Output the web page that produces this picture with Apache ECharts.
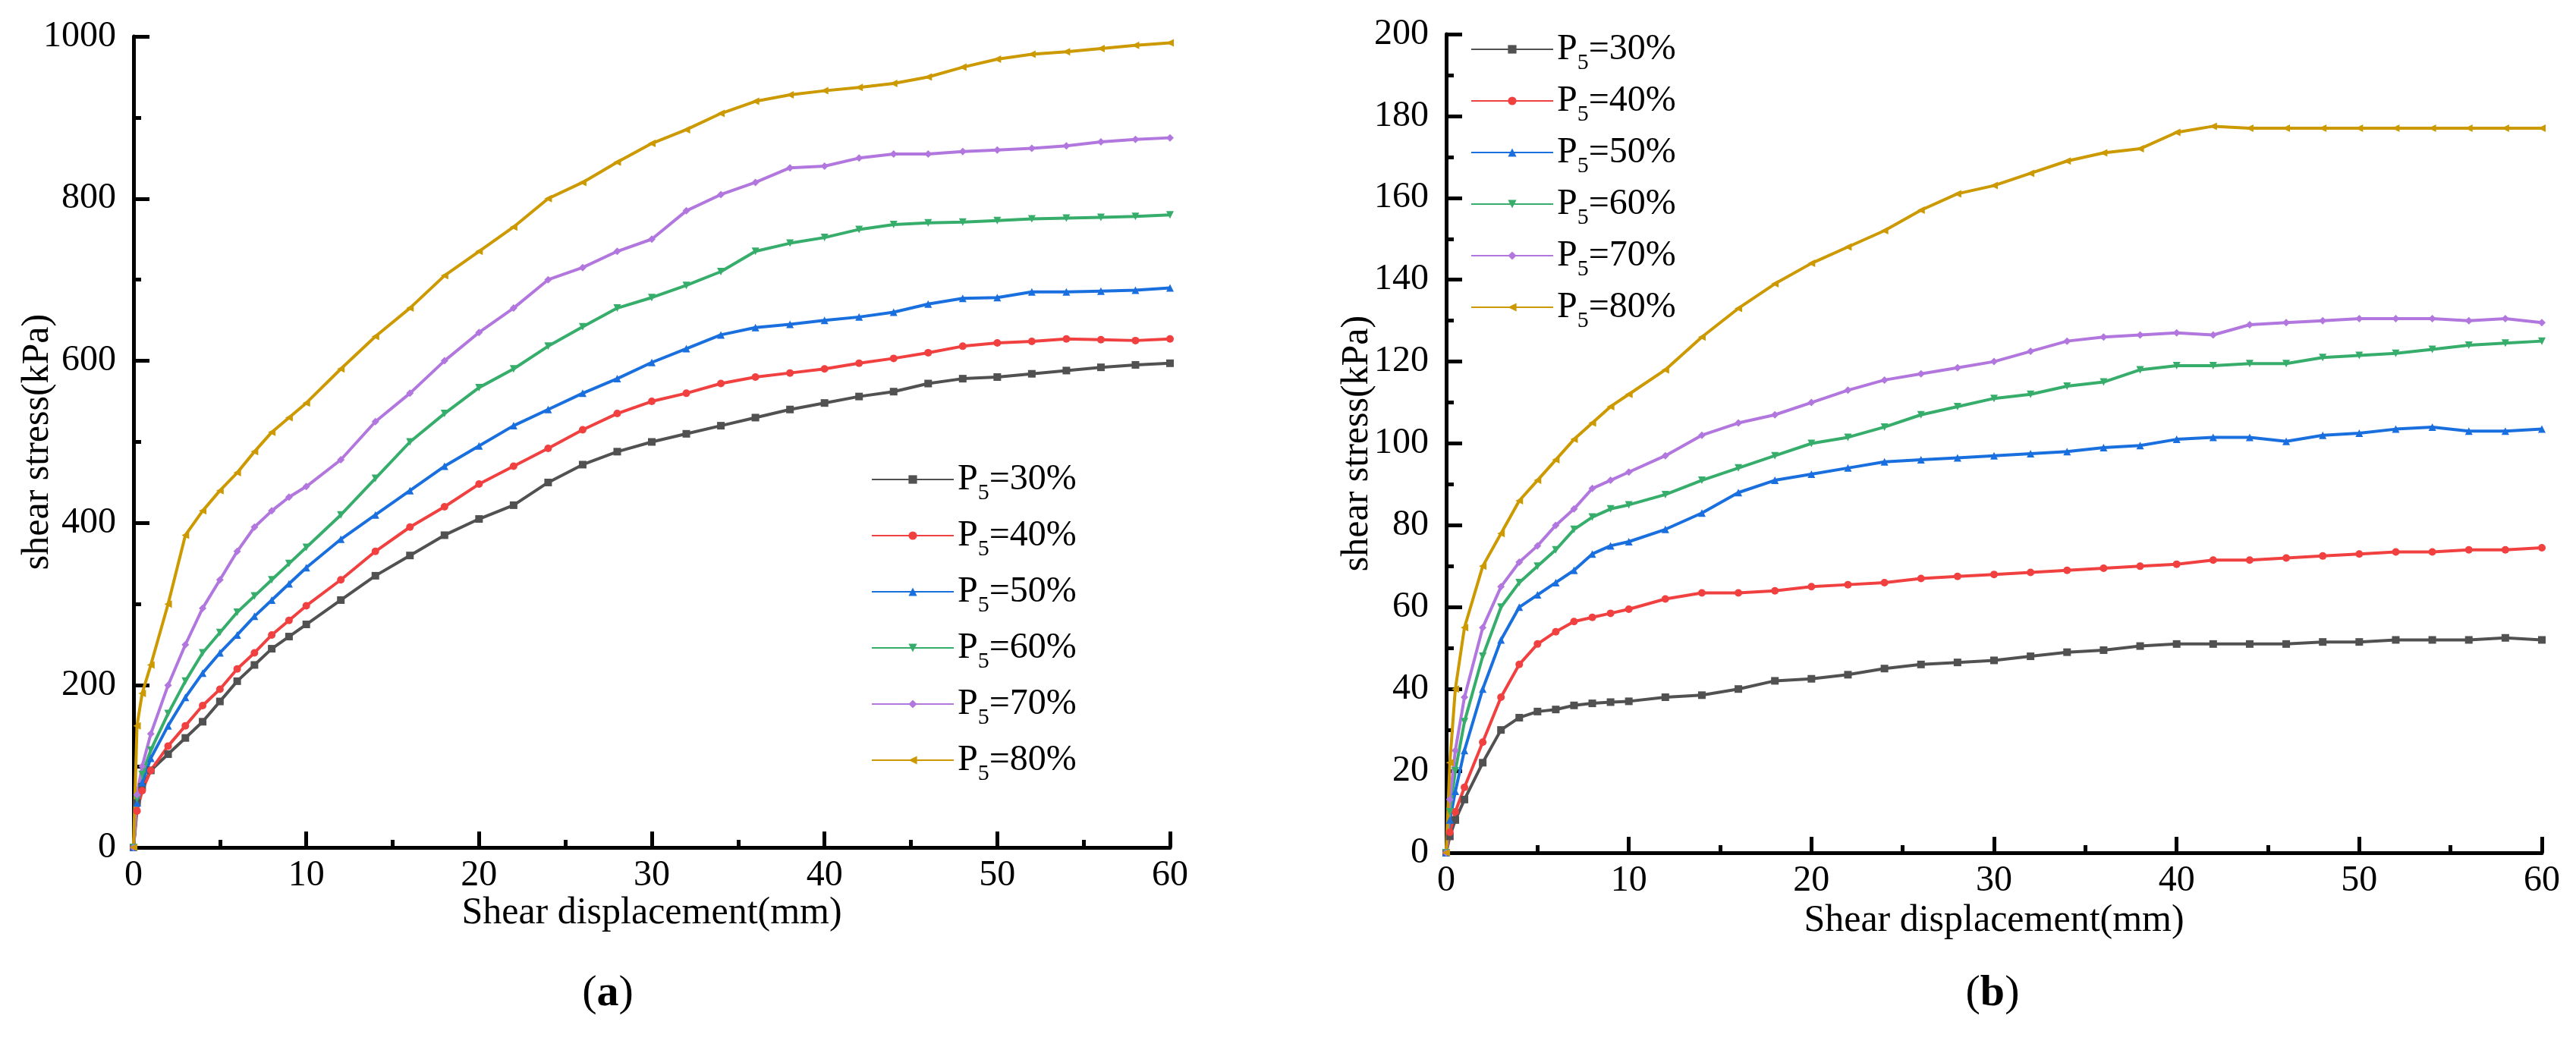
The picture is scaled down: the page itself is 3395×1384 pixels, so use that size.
<!DOCTYPE html>
<html>
<head>
<meta charset="utf-8">
<script src="https://cdn.jsdelivr.net/npm/echarts@6/dist/echarts.min.js"></script>
<style>
  html, body { margin: 0; padding: 0; background: #fff; }
  #chart { width: 3395px; height: 1384px; }
</style>
</head>
<body>
<div id="chart"></div>
<script>
// shear displacement (mm), shared by every curve
const disp = [0, 0.2, 0.5, 1, 2, 3, 4, 5, 6, 7, 8, 9, 10,
  12, 14, 16, 18, 20, 22, 24, 26, 28, 30, 32, 34, 36, 38, 40,
  42, 44, 46, 48, 50, 52, 54, 56, 58, 60];

const names = ['P5=30%', 'P5=40%', 'P5=50%', 'P5=60%', 'P5=70%', 'P5=80%'];

// (a) shear stress, kPa
const a30 = [0, 55, 75, 95, 115, 135, 155, 180, 205, 225, 245, 260, 275,
  305, 335, 360, 385, 405, 422, 450, 472, 488, 500, 510, 520, 530, 540, 548,
  556, 562, 572, 578, 580, 584, 588, 592, 595, 597];
const a40 = [0, 45, 70, 95, 125, 150, 175, 195, 220, 240, 262, 280, 298,
  330, 365, 395, 420, 448, 470, 492, 515, 535, 550, 560, 572, 580, 585, 590,
  597, 603, 610, 618, 622, 624, 627, 626, 625, 627];
const a50 = [0, 55, 80, 110, 150, 185, 215, 240, 262, 285, 305, 325, 345,
  380, 410, 440, 470, 495, 520, 540, 560, 578, 598, 615, 632, 641, 645, 650,
  654, 660, 670, 677, 678, 685, 685, 686, 687, 690];
const a60 = [0, 60, 90, 120, 165, 205, 240, 265, 290, 310, 330, 350, 370,
  410, 455, 500, 535, 567, 590, 618, 642, 665, 678, 693, 710, 735, 745, 752,
  762, 768, 770, 771, 773, 775, 776, 777, 778, 780];
const a70 = [0, 65, 100, 140, 200, 250, 295, 330, 365, 395, 415, 432, 445,
  478, 525, 560, 600, 635, 665, 700, 715, 735, 750, 785, 805, 820, 838, 840,
  850, 855, 855, 858, 860, 862, 865, 870, 873, 875];
const a80 = [0, 150, 190, 225, 300, 385, 415, 440, 462, 488, 512, 530, 548,
  590, 630, 665, 705, 735, 765, 800, 820, 845, 868, 885, 905, 920, 928, 933,
  937, 942, 950, 962, 972, 978, 981, 985, 989, 992];

// (b) shear stress, kPa
const b30 = [0, 4, 8, 13, 22, 30, 33, 34.5, 35, 36, 36.5, 36.8, 37,
  38, 38.5, 40, 42, 42.5, 43.5, 45, 46, 46.5, 47, 48, 49, 49.5, 50.5, 51,
  51, 51, 51, 51.5, 51.5, 52, 52, 52, 52.5, 52];
const b40 = [0, 5, 10, 16, 27, 38, 46, 51, 54, 56.5, 57.5, 58.5, 59.5,
  62, 63.5, 63.5, 64, 65, 65.5, 66, 67, 67.5, 68, 68.5, 69, 69.5, 70, 70.5,
  71.5, 71.5, 72, 72.5, 73, 73.5, 73.5, 74, 74, 74.5];
const b50 = [0, 8, 15, 25, 40, 52, 60, 63, 66, 69, 73, 75, 76,
  79, 83, 88, 91, 92.5, 94, 95.5, 96, 96.5, 97, 97.5, 98, 99, 99.5, 101,
  101.5, 101.5, 100.5, 102, 102.5, 103.5, 104, 103, 103, 103.5];
const b60 = [0, 10, 20, 32, 48, 60, 66, 70, 74, 79, 82, 84, 85,
  87.5, 91, 94, 97, 100, 101.5, 104, 107, 109, 111, 112, 114, 115, 118, 119,
  119, 119.5, 119.5, 121, 121.5, 122, 123, 124, 124.5, 125];
const b70 = [0, 13, 25, 38, 55, 65, 71, 75, 80, 84, 89, 91, 93,
  97, 102, 105, 107, 110, 113, 115.5, 117, 118.5, 120, 122.5, 125, 126, 126.5, 127,
  126.5, 129, 129.5, 130, 130.5, 130.5, 130.5, 130, 130.5, 129.5];
const b80 = [0, 22, 40, 55, 70, 78, 86, 91, 96, 101, 105, 109, 112,
  118, 126, 133, 139, 144, 148, 152, 157, 161, 163, 166, 169, 171, 172, 176,
  177.5, 177, 177, 177, 177, 177, 177, 177, 177, 177];

const colors = ['#515151', '#F14040', '#1A6FDF', '#37AD6B', '#B177DE', '#CC9900'];
const symbols = ['rect', 'circle', 'triangle', 'triangle', 'diamond', 'triangle'];
const rotates = [0, 0, 0, 180, 0, 90];

const FONT = 'Liberation Serif';

const chart = echarts.init(document.getElementById('chart'));

function makeSeries(values, i, idx) {
  return {
    name: names[i],
    type: 'line',
    xAxisIndex: idx,
    yAxisIndex: idx,
    data: disp.map((d, k) => [d, values[k]]),
    itemStyle: { color: colors[i] },
    lineStyle: { color: colors[i], width: 4 },
    symbol: symbols[i],
    symbolRotate: rotates[i],
    symbolSize: 10,
    showAllSymbol: true
  };
}

function xAxisOf(idx, gap) {
  return {
    gridIndex: idx,
    type: 'value',
    min: 0, max: 60, interval: 10,
    name: 'Shear displacement(mm)',
    nameLocation: 'middle',
    nameGap: gap,
    nameMoveOverlap: false,
    nameTextStyle: { fontFamily: FONT, fontSize: 50, color: '#000' },
    axisLine: { show: true, lineStyle: { color: '#000', width: 5 } },
    axisTick: { show: true, inside: true, length: 21, lineStyle: { color: '#000', width: 5 } },
    minorTick: { show: true, splitNumber: 2, length: 10, lineStyle: { color: '#000', width: 5 } },
    splitLine: { show: false },
    axisLabel: { fontFamily: FONT, fontSize: 48, color: '#000', margin: 13, formatter: v => String(v) }
  };
}

function yAxisOf(idx, max, step, gap) {
  return {
    gridIndex: idx,
    type: 'value',
    min: 0, max: max, interval: step,
    name: 'shear stress(kPa)',
    nameLocation: 'middle',
    nameGap: gap,
    nameMoveOverlap: false,
    nameTextStyle: { fontFamily: FONT, fontSize: 50, color: '#000' },
    axisLine: { show: true, lineStyle: { color: '#000', width: 5 } },
    axisTick: { show: true, inside: true, length: 21, lineStyle: { color: '#000', width: 5 } },
    minorTick: { show: true, splitNumber: 2, length: 10, lineStyle: { color: '#000', width: 5 } },
    splitLine: { show: false },
    axisLabel: { fontFamily: FONT, fontSize: 48, color: '#000', margin: 23, formatter: v => String(v) }
  };
}

function legendOf(left, top, gap) {
  return {
    orient: 'vertical',
    left: left,
    top: top,
    padding: 0,
    itemGap: gap,
    itemWidth: 108,
    itemHeight: 14,
    data: names,
    formatter: n => 'P{s|5}' + n.slice(2),
    textStyle: {
      fontFamily: FONT, fontSize: 48, color: '#000', lineHeight: 30,
      rich: { s: { fontFamily: FONT, fontSize: 30, lineHeight: 30, color: '#000', padding: [36, 0, 0, 0] } }
    }
  };
}

function labelOf(letter, x) {
  return {
    text: '({b|' + letter + '})',
    left: x,
    top: 1276,
    textAlign: 'center',
    textStyle: {
      fontFamily: FONT, fontSize: 58, fontWeight: 'normal', color: '#000',
      rich: { b: { fontFamily: FONT, fontSize: 58, fontWeight: 'bold', color: '#000' } }
    }
  };
}

chart.setOption({
  animation: false,
  title: [labelOf('a', 796), labelOf('b', 2621)],
  grid: [
    { left: 176, right: 1853, top: 48, bottom: 267 },
    { left: 1906, right: 45, top: 45, bottom: 260 }
  ],
  xAxis: [xAxisOf(0, 62), xAxisOf(1, 65)],
  yAxis: [yAxisOf(0, 1000, 200, 101), yAxisOf(1, 200, 20, 92)],
  legend: [legendOf(1148, 599, 8), legendOf(1938, 32, 2)],
  series: [
    makeSeries(a30, 0, 0), makeSeries(a40, 1, 0), makeSeries(a50, 2, 0),
    makeSeries(a60, 3, 0), makeSeries(a70, 4, 0), makeSeries(a80, 5, 0),
    makeSeries(b30, 0, 1), makeSeries(b40, 1, 1), makeSeries(b50, 2, 1),
    makeSeries(b60, 3, 1), makeSeries(b70, 4, 1), makeSeries(b80, 5, 1)
  ]
});
</script>
</body>
</html>
